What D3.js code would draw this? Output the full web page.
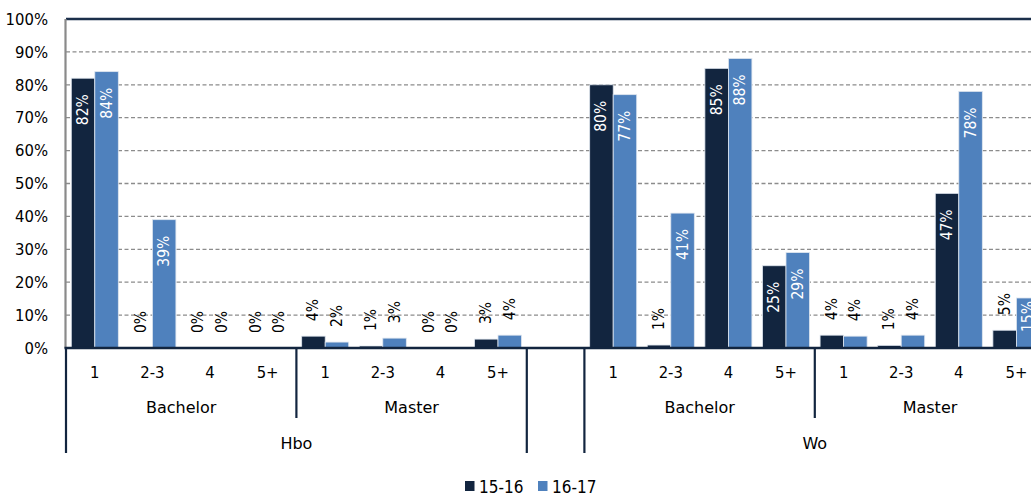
<!DOCTYPE html>
<html><head><meta charset="utf-8">
<script src="https://cdn.jsdelivr.net/npm/d3@7"></script>
<style>
body{margin:0;background:#fff;}
svg{display:block;font-family:"DejaVu Sans Condensed","DejaVu Sans",sans-serif;}
</style></head>
<body><svg id="c" width="1031" height="495"></svg>
<script>
const levels = ["Hbo", "Wo"];
const degrees = ["Bachelor", "Master"];
const durations = ["1", "2-3", "4", "5+"];
const series = ["15-16", "16-17"];
// order: Hbo Bachelor(1,2-3,4,5+), Hbo Master(...), Wo Bachelor(...), Wo Master(...)
const values1516 = [82, 0, 0, 0, 3.6, 0.6, 0, 2.7, 80, 0.9, 85, 25, 3.9, 0.8, 47, 5.4];
const values1617 = [84, 39, 0, 0, 1.8, 3.0, 0, 3.9, 77, 41, 88, 29, 3.6, 3.9, 78, 15.2];
const yTicks = [0, 10, 20, 30, 40, 50, 60, 70, 80, 90, 100];
const colors = ["#12253f", "#4f81bd"];

(function () {
const svg = d3.select("#c");
const W = 1031, pLeft = 66, pTop = 19, pBottom = 348, slotW = 57.6;
const FONT = "DejaVu Sans Condensed, DejaVu Sans, sans-serif";
const FONT_WIDE = "DejaVu Sans, sans-serif";

const rows = [];
const keys = [];
let idx = 0;
levels.forEach((lv, li) => {
  degrees.forEach(dg => {
    durations.forEach(du => {
      const k = lv + "|" + dg + "|" + du;
      keys.push(k);
      rows.push({key: k, level: lv, degree: dg, duration: du, v: [values1516[idx], values1617[idx]]});
      idx++;
    });
  });
  if (li < levels.length - 1) keys.push("gap" + li);
});

const x = d3.scaleBand().domain(keys).range([pLeft, pLeft + keys.length * slotW]).paddingInner(0).paddingOuter(0);
const x1 = d3.scaleBand().domain(series).range([0, x.bandwidth()]).paddingInner(0).paddingOuter(0.225);
const y = d3.scaleLinear().domain([0, 100]).range([pBottom, pTop]);

svg.append("g").selectAll("line").data(yTicks.filter(t => t > 0 && t < 100)).join("line")
  .attr("x1", pLeft).attr("x2", W).attr("y1", d => y(d)).attr("y2", d => y(d))
  .attr("stroke", "#8c8c8c").attr("stroke-width", 1.3).attr("stroke-dasharray", "4,2.5");
svg.append("line").attr("x1", pLeft).attr("x2", W).attr("y1", y(100)).attr("y2", y(100))
  .attr("stroke", "#1b2f4b").attr("stroke-width", 2.4);

const yAxis = svg.append("g").attr("transform", `translate(${pLeft},0)`)
  .call(d3.axisLeft(y).tickValues(yTicks).tickFormat(d => d + "%").tickSize(0).tickPadding(18));
yAxis.select(".domain").remove();
yAxis.selectAll("text").attr("font-size", 16.5).attr("fill", "#000").attr("font-family", FONT);
svg.append("line").attr("x1", pLeft - 0.5).attr("x2", pLeft - 0.5).attr("y1", pTop).attr("y2", pBottom)
  .attr("stroke", "#8a8a8a").attr("stroke-width", 2.2);

const groups = svg.append("g").selectAll("g").data(rows).join("g")
  .attr("transform", d => `translate(${x(d.key)},0)`);
groups.selectAll("rect").data(d => d.v.map((v, i) => ({v, s: series[i], i}))).join("rect")
  .attr("x", d => x1(d.s)).attr("width", x1.bandwidth())
  .attr("y", d => y(d.v)).attr("height", d => pBottom - y(d.v))
  .attr("fill", d => colors[d.i])
  .attr("stroke", d => d.v > 0 ? "#dfe6ef" : "none").attr("stroke-width", 0.8);

const fmt = v => Math.round(v) + "%";
groups.selectAll("text").data(d => d.v.map((v, i) => ({v, s: series[i], i}))).join("text")
  .attr("font-size", 15.5)
  .each(function(d) {
    const t = d3.select(this).text(fmt(d.v));
    const len = this.getComputedTextLength();
    const cx = x1(d.s) + x1.bandwidth() / 2;
    const barH = pBottom - y(d.v);
    let yEnd, anchor, fill;
    if (d.v >= 14) {
      const gap = Math.max(2, Math.min(16, barH - len - 16));
      yEnd = y(d.v) + gap; anchor = "end"; fill = "#fff";
    } else {
      yEnd = y(d.v) - 15; anchor = "start"; fill = "#000";
    }
    t.attr("text-anchor", anchor).attr("fill", fill)
     .attr("dominant-baseline", "central")
     .attr("transform", `translate(${cx},${yEnd}) rotate(-90)`);
  });

svg.append("line").attr("x1", pLeft - 1.5).attr("x2", W).attr("y1", pBottom).attr("y2", pBottom)
  .attr("stroke", "#12253f").attr("stroke-width", 2.5);

const xAxis = svg.append("g").attr("transform", `translate(0,${pBottom})`)
  .call(d3.axisBottom(x).tickSize(0).tickPadding(0).tickFormat(k => k.startsWith("gap") ? "" : k.split("|")[2]));
xAxis.select(".domain").remove();
xAxis.selectAll("text").attr("font-size", 16.5).attr("fill", "#000").attr("dy", null)
  .attr("y", 24).attr("dominant-baseline", "central").attr("font-family", FONT);

const degGroups = [];
levels.forEach(lv => degrees.forEach(dg => {
  const ks = keys.filter(k => k.startsWith(lv + "|" + dg + "|"));
  degGroups.push({level: lv, degree: dg, x0: x(ks[0]), x1: x(ks[ks.length - 1]) + x.bandwidth()});
}));
svg.append("g").selectAll("text").data(degGroups).join("text")
  .attr("x", d => (d.x0 + d.x1) / 2).attr("y", 407).attr("text-anchor", "middle")
  .attr("dominant-baseline", "central").attr("font-size", 16).attr("font-family", FONT_WIDE).text(d => d.degree);
const degDividers = degGroups.filter(d => d.degree !== degrees[0]).map(d => d.x0);
svg.append("g").selectAll("line").data(degDividers).join("line")
  .attr("x1", d => d).attr("x2", d => d).attr("y1", pBottom).attr("y2", 418)
  .attr("stroke", "#12253f").attr("stroke-width", 2.2);

const lvGroups = levels.map(lv => {
  const ks = keys.filter(k => k.startsWith(lv + "|"));
  return {level: lv, x0: x(ks[0]), x1: x(ks[ks.length - 1]) + x.bandwidth()};
});
svg.append("g").selectAll("text").data(lvGroups).join("text")
  .attr("x", d => (d.x0 + d.x1) / 2).attr("y", 443).attr("text-anchor", "middle")
  .attr("dominant-baseline", "central").attr("font-size", 16).attr("font-family", FONT_WIDE).text(d => d.level);
const lvDividers = [];
lvGroups.forEach(g => { lvDividers.push(g.x0); lvDividers.push(g.x1); });
svg.append("g").selectAll("line").data(lvDividers).join("line")
  .attr("x1", d => d).attr("x2", d => d).attr("y1", pBottom).attr("y2", 453)
  .attr("stroke", "#12253f").attr("stroke-width", 2.2);

const leg = svg.append("g");
const legX = [465, 538];
series.forEach((s, i) => {
  leg.append("rect").attr("x", legX[i]).attr("y", 481).attr("width", 9.5).attr("height", 10).attr("fill", colors[i]);
  leg.append("text").attr("x", legX[i] + 14).attr("y", 486.5).attr("dominant-baseline", "central")
    .attr("font-size", 17).text(s);
});
})();
</script></body></html>
